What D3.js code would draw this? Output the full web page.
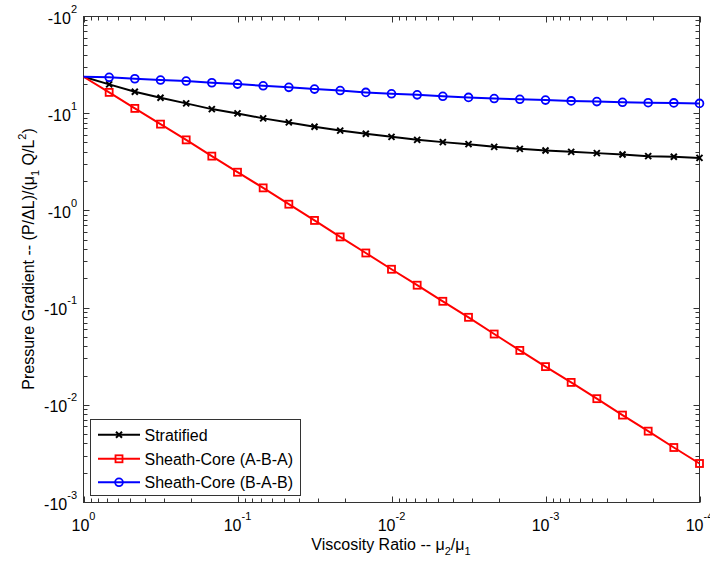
<!DOCTYPE html>
<html><head><meta charset="utf-8">
<script src="https://cdn.jsdelivr.net/npm/d3@7"></script>
<style>body{margin:0;background:#fff} text{font-family:"Liberation Sans",Arial,Helvetica,sans-serif;fill:#000}</style>
</head><body><svg id="c" width="710" height="561"></svg>
<script>
// ---- data ----
const viscosityRatio = [1, 0.6813, 0.4642, 0.3162, 0.2154, 0.1468, 0.1, 0.06813, 0.04642, 0.03162, 0.02154, 0.01468, 0.01, 0.006813, 0.004642, 0.003162, 0.002154, 0.001468, 0.001, 0.0006813, 0.0004642, 0.0003162, 0.0002154, 0.0001468, 0.0001];
const stratified = [-24.0, -20.03, -16.81, -14.58, -12.77, -11.15, -10.07, -8.95, -8.14, -7.33, -6.70, -6.21, -5.78, -5.38, -5.10, -4.86, -4.56, -4.35, -4.19, -4.05, -3.93, -3.81, -3.66, -3.60, -3.51];
const sheathABA = [-24.0, -16.57, -11.34, -7.81, -5.38, -3.66, -2.50, -1.725, -1.172, -0.798, -0.540, -0.369, -0.251, -0.172, -0.1175, -0.0804, -0.0541, -0.0367, -0.0250, -0.0172, -0.0117, -0.00793, -0.00542, -0.00368, -0.00252];
const sheathBAB = [-24.0, -23.65, -22.88, -22.18, -21.66, -20.81, -20.17, -19.38, -18.66, -17.92, -17.30, -16.57, -16.03, -15.62, -15.11, -14.72, -14.31, -14.07, -13.80, -13.54, -13.32, -13.10, -12.98, -12.92, -12.76];
const seriesNames = ["Stratified", "Sheath-Core (A-B-A)", "Sheath-Core (B-A-B)"];
const seriesColors = ["#000000", "#ff0000", "#0000ff"];
const seriesMarkers = ["x", "square", "circle"];
const xTickValues = [1, 0.1, 0.01, 0.001, 0.0001];
const xTickExp = ["0", "-1", "-2", "-3", "-4"];
const yTickValues = [-100, -10, -1, -0.1, -0.01, -0.001];
const yTickExp = ["2", "1", "0", "-1", "-2", "-3"];
const xTitle = "Viscosity Ratio -- ";
const yTitle = "Pressure Gradient -- (P/\u0394L)/(";

// ---- layout ----
const L = 83.5, R = 699.5, T = 16.5, B = 502.5;
const svg = d3.select("#c");
const x = d3.scaleLog().domain([1, 1e-4]).range([L, R]);
const y = d3.scaleLog().domain([-100, -1e-3]).range([T, B]);
const axisColor = "#333";

svg.append("rect").attr("x",0).attr("y",0).attr("width",710).attr("height",561).attr("fill","#fff");

// minor ticks
const mults = [2,3,4,5,6,7,8,9];
const xMinor = [], yMinor = [];
xTickValues.slice(0,-1).forEach(v => mults.forEach(m => xMinor.push(v*m/10)));
yTickValues.slice(1).forEach(v => mults.forEach(m => yMinor.push(v*m)));

const g = svg.append("g").attr("stroke", axisColor).attr("stroke-width", 1).attr("fill","none");
function xt(v, len){
  const px = Math.round(x(v)) + 0.5;
  g.append("line").attr("x1",px).attr("x2",px).attr("y1",B).attr("y2",B-len);
  g.append("line").attr("x1",px).attr("x2",px).attr("y1",T).attr("y2",T+len);
}
function yt(v, len){
  const py = Math.round(y(v)-0.5) + 0.5;
  g.append("line").attr("y1",py).attr("y2",py).attr("x1",L).attr("x2",L+len);
  g.append("line").attr("y1",py).attr("y2",py).attr("x1",R).attr("x2",R-len);
}
xMinor.forEach(v => xt(v, 4));
xTickValues.forEach(v => xt(v, 6));
yMinor.forEach(v => yt(v, 4));
yTickValues.forEach(v => yt(v, 6));
g.append("rect").attr("x",L).attr("y",T).attr("width",R-L).attr("height",B-T);

// tick labels
xTickValues.forEach((v,i) => {
  const t = svg.append("text").attr("x", x(v)).attr("y", 530.5).attr("text-anchor","middle").attr("font-size",16);
  t.append("tspan").text("10");
  t.append("tspan").attr("dy",-11).attr("font-size",11).text(xTickExp[i]);
});
yTickValues.forEach((v,i) => {
  const t = svg.append("text").attr("x", 77).attr("y", y(v)+7).attr("text-anchor","end").attr("font-size",16);
  t.append("tspan").text("-10");
  t.append("tspan").attr("dy",-11).attr("font-size",11).text(yTickExp[i]);
});

// axis titles
const xt1 = svg.append("text").attr("x", 391).attr("y", 549.5).attr("text-anchor","middle").attr("font-size",16);
xt1.append("tspan").text(xTitle + "\u03bc");
xt1.append("tspan").attr("dy",5).attr("font-size",11).text("2");
xt1.append("tspan").attr("dy",-5).text("/\u03bc");
xt1.append("tspan").attr("dy",5).attr("font-size",11).text("1");

const yt1 = svg.append("text").attr("transform","translate(33.5,259) rotate(-90)").attr("text-anchor","middle").attr("font-size",16);
yt1.append("tspan").text(yTitle + "\u03bc");
yt1.append("tspan").attr("dy",5).attr("font-size",11).text("1");
yt1.append("tspan").attr("dy",-5).text(" Q/L");
yt1.append("tspan").attr("dy",-8).attr("font-size",11).text("2");
yt1.append("tspan").attr("dy",8).text(")");

// series
const allSeries = [stratified, sheathABA, sheathBAB];
const line = d3.line().x(d => x(d[0])).y(d => y(d[1]));
function drawMarker(sel, type, color, cx, cy){
  if (type === "x") {
    sel.append("path").attr("d", `M${cx-3},${cy-3}L${cx+3},${cy+3}M${cx-3},${cy+3}L${cx+3},${cy-3}`)
      .attr("stroke", color).attr("stroke-width", 2).attr("fill","none");
  } else if (type === "square") {
    sel.append("rect").attr("x",cx-3.5).attr("y",cy-3.5).attr("width",7).attr("height",7)
      .attr("stroke", color).attr("stroke-width", 1.8).attr("fill","none");
  } else {
    sel.append("circle").attr("cx",cx).attr("cy",cy).attr("r",3.9)
      .attr("stroke", color).attr("stroke-width", 1.8).attr("fill","none");
  }
}
allSeries.forEach((s, i) => {
  const pts = viscosityRatio.map((v, j) => [v, s[j]]);
  const sg = svg.append("g");
  sg.append("path").attr("d", line(pts)).attr("stroke", seriesColors[i]).attr("stroke-width", 2).attr("fill","none");
  pts.slice(1).forEach(p => drawMarker(sg, seriesMarkers[i], seriesColors[i], x(p[0]), y(p[1])));
});

// legend
const lg = svg.append("g");
lg.append("rect").attr("x",90.5).attr("y",419.5).attr("width",210).attr("height",76)
  .attr("fill","#fff").attr("stroke",axisColor).attr("stroke-width",1);
const rowY = [434.7, 458.8, 482.3];
seriesNames.forEach((n, i) => {
  lg.append("line").attr("x1",98).attr("x2",140).attr("y1",rowY[i]).attr("y2",rowY[i])
    .attr("stroke",seriesColors[i]).attr("stroke-width",2);
  drawMarker(lg, seriesMarkers[i], seriesColors[i], 119, rowY[i]);
  lg.append("text").attr("x",144.5).attr("y",rowY[i]+5.8).attr("font-size",16).text(n);
});
</script></body></html>
